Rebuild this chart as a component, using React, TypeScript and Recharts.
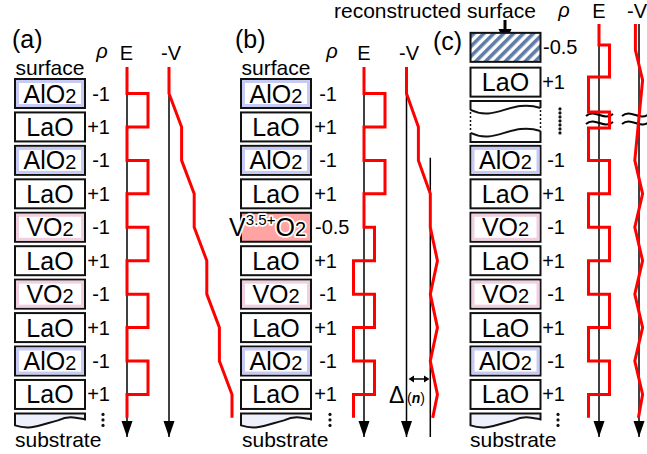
import React from 'react';
import { ComposedChart, Line, Scatter, XAxis, YAxis, Customized } from 'recharts';

const W = 647;
const H = 454;
const FONT = '"Liberation Sans", Arial, Helvetica, sans-serif';
const RED = '#ff0000';

// stacking sequence, top (surface) to bottom (substrate)
const layersA = ['AlO2', 'LaO', 'AlO2', 'LaO', 'VO2', 'LaO', 'VO2', 'LaO', 'AlO2', 'LaO', 'substrate'];
const rhoA = ['-1', '+1', '-1', '+1', '-1', '+1', '-1', '+1', '-1', '+1', '⋮'];

const layersB = ['AlO2', 'LaO', 'AlO2', 'LaO', 'V3.5+O2', 'LaO', 'VO2', 'LaO', 'AlO2', 'LaO', 'substrate'];
const rhoB = ['-1', '+1', '-1', '+1', '-0.5', '+1', '-1', '+1', '-1', '+1', '⋮'];

const layersC = ['recon', 'LaO', 'break', 'AlO2', 'LaO', 'VO2', 'LaO', 'VO2', 'LaO', 'AlO2', 'LaO', 'substrate'];
const rhoC = ['-0.5', '+1', '⋮', '-1', '+1', '-1', '+1', '-1', '+1', '-1', '+1', '⋮'];
const depthC = [-1.38, -0.34, 0.82, 2, 3, 4, 5, 6, 7, 8, 9, 10];

// field E: step levels between depth edges (layer units)
const edgesAB = [-0.79, 0, 1, 2, 3, 4, 5, 6, 7, 8, 9, 9.7];
const eA = [0, 1, 0, 1, 0, 1, 0, 1, 0, 1, 0];
const eB = [0, 1, 0, 1, 0, 0.5, -0.5, 0.5, -0.5, 0.5, -0.5];
const edgesC = [-2.08, -1.45, -0.49, 0.55, 1.03, 2, 3, 4, 5, 6, 7, 8, 9, 9.7];
const eC = [0, 0.5, -0.5, 0.5, -0.5, 0.5, -0.5, 0.5, -0.5, 0.5, -0.5, 0.5, -0.5];

// potential -V at depth nodes
const vA = [0, 0, 1, 1, 2, 2, 3, 3, 4, 4, 5, 5];
const vB = [0, 0, 1, 1, 2, 2, 2.6, 2, 2.6, 2, 2.6, 2.2];
const vDepthC = [-2.08, -1.3, -0.4, 2, 3, 4, 5, 6, 7, 8, 9, 9.7];
const vC = [-0.3, -0.3, 0.3, -0.35, 0.3, -0.35, 0.3, -0.35, 0.3, -0.35, 0.3, -0.05];
const deltaLevel = 2;

// layout
const Y0 = 93.5;
const PITCH = 33.44;
const AXIS_END = 10.27;
const BOX_W = 70;
const BOX_H = 29;

const axes = [
  { id: 'px', x0: 0, unit: 1 },
  { id: 'aE', x0: 127, unit: 21 },
  { id: 'aV', x0: 169, unit: 12.6 },
  { id: 'bE', x0: 364, unit: 21 },
  { id: 'bV', x0: 406.5, unit: 11.9 },
  { id: 'cE', x0: 599, unit: 21 },
  { id: 'cV', x0: 639, unit: 12 },
];

const steps = (edges: number[], lv: number[]) =>
  lv.flatMap((v, i) => [{ x: v, y: edges[i] }, { x: v, y: edges[i + 1] }]);
const poly = (depths: number[], vals: number[]) => vals.map((v, i) => ({ x: v, y: depths[i] }));

const boxRows = (names: string[], cx: number, depths?: number[]) =>
  names.map((name, i) => ({ x: cx, y: depths ? depths[i] : i, name }));
const rhoRows = (labels: string[], cx: number, depths?: number[]) =>
  labels.map((rho, i) => ({ x: cx, y: depths ? depths[i] : i, rho }));

const arrowDot = (n: number) => (p: any) =>
  p.index === n - 1 ? (
    <path key="arrow" d={`M${p.cx - 5.5},${p.cy - 16}L${p.cx + 5.5},${p.cy - 16}L${p.cx},${p.cy}Z`} fill="#000" />
  ) : (
    <g key={p.index} />
  );

const Formula = ({ x, y, name }: { x: number; y: number; name: string }) => {
  const m = name.match(/^(.*?)(2)$/);
  return (
    <text x={x} y={y} textAnchor="middle" fontSize={25} fontFamily={FONT} fill="#000">
      {m ? m[1] : name}
      {m && <tspan fontSize={20}>2</tspan>}
    </text>
  );
};

const LayerBox = (props: any) => {
  const { cx, cy, payload } = props;
  const kind: string = payload.name;
  const l = cx - BOX_W / 2;
  const r = cx + BOX_W / 2;
  const t = cy - BOX_H / 2;
  if (kind === 'substrate') {
    return (
      <path
        d={`M${l},${t}H${r}V${t + 6}C${r - 10},${t + 4} ${r - 16},${t + 2} ${r - 27},${t + 7}C${l + 24},${t + 12} ${l + 15},${t + 17} ${l},${t + 12}Z`}
        fill="#eef0fb"
        stroke="#111"
        strokeWidth={2}
      />
    );
  }
  if (kind === 'break') {
    const top = cy - 20;
    const bot = cy + 21;
    const w1 = top + 9;
    const w2 = top + 32;
    return (
      <g fill="none" stroke="#111" strokeWidth={2}>
        <path d={`M${l},${w1}V${top}H${r}V${w1 - 2}`} />
        <path d={`M${l},${w1}C${l + 25},${w1 + 12} ${r - 30},${w1 - 11} ${r},${w1 - 2}`} />
        <path d={`M${l},${w2}C${l + 25},${w2 + 12} ${r - 30},${w2 - 11} ${r},${w2 - 2}`} />
        <path d={`M${l},${w2}V${bot}H${r}V${w2 - 2}`} />
        <path d={`M${l},${w1 + 2}V${w2 - 2}M${r},${w1}V${w2 - 4}`} strokeWidth={1.5} strokeDasharray="2 2" />
      </g>
    );
  }
  if (kind === 'recon') {
    return (
      <g>
        <defs>
          <pattern id="hatch" width="7" height="7" patternUnits="userSpaceOnUse" patternTransform="rotate(45)">
            <rect width="7" height="7" fill="#ffffff" />
            <rect width="3.6" height="7" fill="#5f7da6" />
          </pattern>
        </defs>
        <rect x={l} y={t} width={BOX_W} height={BOX_H} fill="url(#hatch)" stroke="#111" strokeWidth={2} />
      </g>
    );
  }
  if (kind === 'V3.5+O2') {
    return (
      <g>
        <rect x={l} y={t} width={BOX_W} height={BOX_H} fill="#ffa3a3" stroke="#111" strokeWidth={2} />
        <text
          x={r - 5}
          y={cy + 9}
          textAnchor="end"
          fontSize={25}
          fontFamily={FONT}
          fill="#000"
          stroke="#fff"
          strokeWidth={3.5}
          strokeLinejoin="round"
          paintOrder="stroke"
        >
          V
          <tspan fontSize={15} dy={-11}>3.5+</tspan>
          <tspan dy={11}>O</tspan>
          <tspan fontSize={20}>2</tspan>
        </text>
      </g>
    );
  }
  const glow = kind === 'AlO2' ? '#c7caf3' : kind === 'VO2' ? '#f0cfe0' : null;
  return (
    <g>
      <rect x={l} y={t} width={BOX_W} height={BOX_H} fill="#fff" stroke="#111" strokeWidth={2} />
      {glow && (
        <rect x={l + 2.5} y={t + 2.5} width={BOX_W - 5} height={BOX_H - 5} fill="none" stroke={glow} strokeWidth={3} />
      )}
      <Formula x={cx} y={cy + 9} name={kind} />
    </g>
  );
};

const RhoLabel = (props: any) => {
  const { cx, cy, payload } = props;
  const rho: string = payload.rho;
  if (rho === '⋮') {
    const isBreak = payload.y < 2;
    const n = isBreak ? 7 : 3;
    const gap = isBreak ? 4 : 5.5;
    const yc = isBreak ? cy : cy - 8;
    const x = isBreak ? cx - 5 : cx - 7;
    return (
      <g>
        {Array.from({ length: n }, (_, k) => (
          <circle key={k} cx={x} cy={yc + (k - (n - 1) / 2) * gap} r={1.6} fill="#111" />
        ))}
      </g>
    );
  }
  const long = rho.length > 2;
  return (
    <text
      x={long ? cx - 22 : cx}
      y={cy + 7}
      textAnchor={long ? 'start' : 'end'}
      fontSize={20}
      fontFamily={FONT}
      fill="#000"
    >
      {rho}
    </text>
  );
};

const BreakMark = ({ x1, x2, y }: { x1: number; x2: number; y: number }) => {
  const w = x2 - x1;
  const wave = (yy: number) => `C${x1 + w / 3},${yy - 8} ${x1 + (2 * w) / 3},${yy + 6} ${x2},${yy - 2}`;
  return (
    <g>
      <path
        d={`M${x1},${y - 4}${wave(y - 4)}L${x2},${y + 4}C${x1 + (2 * w) / 3},${y + 12} ${x1 + w / 3},${y - 2} ${x1},${y + 4}Z`}
        fill="#fff"
      />
      <path d={`M${x1},${y - 4}${wave(y - 4)}M${x1},${y + 4}${wave(y + 4)}`} fill="none" stroke="#000" strokeWidth={2} />
    </g>
  );
};

const Overlay = () => {
  const t = { fontFamily: FONT, fill: '#000' };
  return (
    <g>
      <text x={12} y={48} fontSize={25} {...t}>(a)</text>
      <text x={235} y={48} fontSize={25} {...t}>(b)</text>
      <text x={433} y={50} fontSize={25} {...t}>(c)</text>

      <text x={102} y={58} fontSize={20} fontStyle="italic" textAnchor="middle" {...t}>ρ</text>
      <text x={126.5} y={60} fontSize={20} textAnchor="middle" {...t}>E</text>
      <text x={171} y={60} fontSize={20} textAnchor="middle" {...t}>-V</text>
      <text x={332} y={58} fontSize={20} fontStyle="italic" textAnchor="middle" {...t}>ρ</text>
      <text x={364} y={60} fontSize={20} textAnchor="middle" {...t}>E</text>
      <text x={409} y={60} fontSize={20} textAnchor="middle" {...t}>-V</text>
      <text x={564} y={17} fontSize={20} fontStyle="italic" textAnchor="middle" {...t}>ρ</text>
      <text x={599} y={18} fontSize={20} textAnchor="middle" {...t}>E</text>
      <text x={637} y={18} fontSize={20} textAnchor="middle" {...t}>-V</text>

      <text x={50} y={75} fontSize={21} textAnchor="middle" {...t}>surface</text>
      <text x={276} y={75} fontSize={21} textAnchor="middle" {...t}>surface</text>
      <text x={15} y={447} fontSize={21} {...t}>substrate</text>
      <text x={242} y={447} fontSize={21} {...t}>substrate</text>
      <text x={470} y={447} fontSize={21} {...t}>substrate</text>

      <text x={334} y={18} fontSize={21} {...t}>reconstructed surface</text>
      <path d="M505,20V31" stroke="#000" strokeWidth={3} />
      <path d="M498.5,29H511.5L505,43Z" fill="#000" />

      <path d="M412,379H426" stroke="#000" strokeWidth={1.5} />
      <path d="M408.5,379L414,375.5V382.5Z M429.5,379L424,375.5V382.5Z" fill="#000" />
      <text x={389} y={403} fontSize={23} {...t}>Δ</text>
      <text x={407} y={403} fontSize={14} {...t}>
        (<tspan fontStyle="italic" fontWeight="bold">n</tspan>)
      </text>

      <BreakMark x1={586} x2={613} y={120} />
      <BreakMark x1={622} x2={649} y={120} />
    </g>
  );
};

export default function App() {
  const lineProps = { isAnimationActive: false, activeDot: false, dot: false, type: 'linear' as const, dataKey: 'y' };
  const axisLine = (id: string, start: number, x = 0) => (
    <Line
      key={`ax-${id}-${x}`}
      {...lineProps}
      xAxisId={id}
      data={[{ x, y: start }, { x, y: AXIS_END }]}
      stroke="#000"
      strokeWidth={1.5}
      dot={arrowDot(2)}
    />
  );
  return (
    <div style={{ position: 'absolute', left: 0, top: 0, width: W, height: H, background: '#fff' }}>
      <ComposedChart width={W} height={H} margin={{ top: 0, right: 0, bottom: 0, left: 0 }}>
        {axes.map((a) => (
          <XAxis
            key={a.id}
            xAxisId={a.id}
            type="number"
            dataKey="x"
            domain={[-a.x0 / a.unit, (W - a.x0) / a.unit]}
            allowDataOverflow
            hide
          />
        ))}
        <YAxis type="number" dataKey="y" domain={[-Y0 / PITCH, (H - Y0) / PITCH]} reversed allowDataOverflow hide />

        <Scatter xAxisId="px" data={boxRows(layersA, 50)} shape={LayerBox} isAnimationActive={false} />
        <Scatter xAxisId="px" data={boxRows(layersB, 276)} shape={LayerBox} isAnimationActive={false} />
        <Scatter xAxisId="px" data={boxRows(layersC, 505.5, depthC)} shape={LayerBox} isAnimationActive={false} />
        <Scatter xAxisId="px" data={rhoRows(rhoA, 110)} shape={RhoLabel} isAnimationActive={false} />
        <Scatter xAxisId="px" data={rhoRows(rhoB, 337)} shape={RhoLabel} isAnimationActive={false} />
        <Scatter xAxisId="px" data={rhoRows(rhoC, 565, depthC)} shape={RhoLabel} isAnimationActive={false} />

        {axisLine('aE', edgesAB[0])}
        {axisLine('aV', edgesAB[0])}
        {axisLine('bE', edgesAB[0])}
        {axisLine('bV', edgesAB[0])}
        <Line {...lineProps} xAxisId="bV" data={[{ x: deltaLevel, y: 1.92 }, { x: deltaLevel, y: AXIS_END }]} stroke="#000" strokeWidth={1.5} />
        {axisLine('cE', edgesC[0])}
        {axisLine('cV', edgesC[0])}

        <Line {...lineProps} xAxisId="aE" data={steps(edgesAB, eA)} stroke={RED} strokeWidth={3} />
        <Line {...lineProps} xAxisId="aV" data={poly(edgesAB, vA)} stroke={RED} strokeWidth={3} />
        <Line {...lineProps} xAxisId="bE" data={steps(edgesAB, eB)} stroke={RED} strokeWidth={3} />
        <Line {...lineProps} xAxisId="bV" data={poly(edgesAB, vB)} stroke={RED} strokeWidth={3} />
        <Line {...lineProps} xAxisId="cE" data={steps(edgesC, eC)} stroke={RED} strokeWidth={3} />
        <Line {...lineProps} xAxisId="cV" data={poly(vDepthC, vC)} stroke={RED} strokeWidth={3} />

        <Customized component={Overlay} />
      </ComposedChart>
    </div>
  );
}
